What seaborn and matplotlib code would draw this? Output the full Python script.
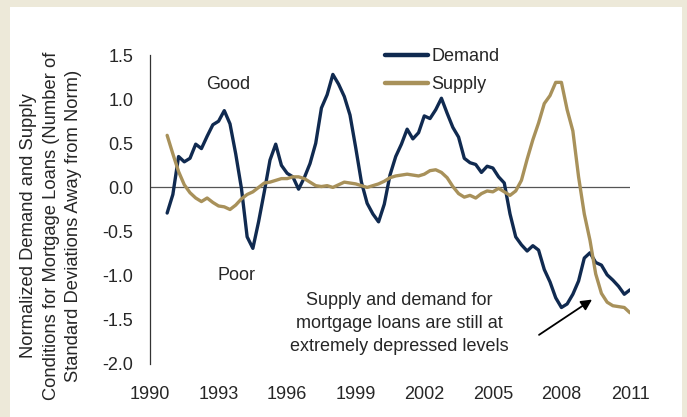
import numpy as np
import pandas as pd
import matplotlib
matplotlib.use("Agg")
import matplotlib.pyplot as plt
from matplotlib.patches import Rectangle
import seaborn as sns

# Quarterly readings, 1990 Q4 through 2011 Q1
quarters = [1990.75 + 0.25 * i for i in range(82)]

demand = [
    -0.29, -0.08, 0.35, 0.29, 0.33, 0.49, 0.44, 0.58, 0.71, 0.75,
    0.87, 0.72, 0.38, -0.01, -0.56, -0.69, -0.39, -0.05, 0.31, 0.49,
    0.25, 0.16, 0.12, -0.02, 0.11, 0.27, 0.50, 0.90, 1.05, 1.28,
    1.17, 1.03, 0.82, 0.45, 0.06, -0.18, -0.30, -0.39, -0.19, 0.14,
    0.35, 0.49, 0.66, 0.55, 0.62, 0.81, 0.78, 0.88, 1.01, 0.84,
    0.68, 0.57, 0.33, 0.28, 0.26, 0.17, 0.24, 0.22, 0.12, 0.05,
    -0.30, -0.56, -0.65, -0.72, -0.66, -0.71, -0.93, -1.07, -1.25, -1.36,
    -1.32, -1.21, -1.06, -0.80, -0.74, -0.85, -0.88, -0.99, -1.05, -1.12,
    -1.21, -1.16,
]

supply = [
    0.59, 0.38, 0.18, 0.03, -0.06, -0.12, -0.16, -0.12, -0.17, -0.21,
    -0.22, -0.25, -0.20, -0.13, -0.08, -0.05, 0.00, 0.05, 0.06, 0.08,
    0.10, 0.10, 0.12, 0.12, 0.10, 0.06, 0.02, 0.01, 0.02, 0.00,
    0.03, 0.06, 0.05, 0.04, 0.02, 0.00, 0.02, 0.04, 0.07, 0.11,
    0.13, 0.14, 0.15, 0.14, 0.13, 0.15, 0.19, 0.20, 0.17, 0.11,
    0.01, -0.07, -0.11, -0.09, -0.12, -0.07, -0.04, -0.05, -0.01, -0.05,
    -0.09, -0.04, 0.08, 0.32, 0.54, 0.73, 0.95, 1.04, 1.19, 1.19,
    0.88, 0.64, 0.12, -0.30, -0.60, -0.98, -1.20, -1.30, -1.34, -1.35,
    -1.36, -1.42,
]

x_ticks = [1990, 1993, 1996, 1999, 2002, 2005, 2008, 2011]
y_ticks = [-2.0, -1.5, -1.0, -0.5, 0.0, 0.5, 1.0, 1.5]

df = pd.DataFrame({
    "year": quarters * 2,
    "value": demand + supply,
    "series": ["Demand"] * len(quarters) + ["Supply"] * len(quarters),
})

sns.set_theme(style="white")
plt.rcParams["font.family"] = ["Liberation Sans", "DejaVu Sans"]

TEXT = "#262626"
NAVY = "#102A50"
TAN = "#A8915A"

fig = plt.figure(figsize=(6.87, 4.17), dpi=100, facecolor="#EDE9D9")
# white inner panel inside the beige frame
fig.patches.append(Rectangle((10 / 687, 0), 672 / 687, 1 - 7 / 417,
                             transform=fig.transFigure, facecolor="white",
                             edgecolor="none", zorder=-10))
ax = fig.add_axes([150 / 687, 1 - 364 / 417, 480 / 687, 309 / 417])
ax.set_facecolor("none")

ax.axhline(0, color="#555555", lw=0.9, zorder=1)

sns.lineplot(data=df, x="year", y="value", hue="series",
             palette={"Demand": NAVY, "Supply": TAN},
             linewidth=2.4, ax=ax, legend=True, zorder=3)

ax.set_xlim(1990, 2011)
ax.set_ylim(-2.0, 1.5)
ax.set_xticks(x_ticks)
ax.set_xticklabels([str(t) for t in x_ticks])
ax.set_yticks(y_ticks)
ax.set_yticklabels([f"{t:.1f}" for t in y_ticks])
ax.tick_params(axis="x", length=0, pad=16, labelsize=13, colors=TEXT)
ax.tick_params(axis="y", length=0, pad=12, labelsize=13, colors=TEXT)

for side in ["top", "right", "bottom"]:
    ax.spines[side].set_visible(False)
ax.spines["left"].set_color("#333333")
ax.spines["left"].set_linewidth(0.9)

ax.set_xlabel("")
ax.set_ylabel("")
fig.text(51 / 687, 1 - 226 / 417,
         "Normalized Demand and Supply\n"
         "Conditions for Mortgage Loans (Number of\n"
         "Standard Deviations Away from Norm)",
         rotation=90, fontsize=13.2, color=TEXT, ha="center", va="center",
         multialignment="center", linespacing=1.45)

leg = ax.legend(loc="upper left", bbox_to_anchor=(0.474, 1.045), frameon=False,
                fontsize=13, handlelength=2.4, handletextpad=0.2,
                labelspacing=0.6, borderaxespad=0)
for t in leg.get_texts():
    t.set_color(TEXT)
for h in leg.get_lines():
    h.set_linewidth(3.2)

ax.text(1993.4, 1.17, "Good", fontsize=13, color=TEXT, ha="center", va="center")
ax.text(1993.8, -1.0, "Poor", fontsize=13, color=TEXT, ha="center", va="center")
ax.text(2000.9, -1.54,
        "Supply and demand for\nmortgage loans are still at\nextremely depressed levels",
        fontsize=13, color=TEXT, ha="center", va="center", linespacing=1.45)
ax.annotate("", xy=(2009.34, -1.27), xytext=(2007.02, -1.67),
            arrowprops=dict(arrowstyle="-|>", color="black", lw=1.3,
                            mutation_scale=16, shrinkA=0, shrinkB=0))

fig.savefig("out.png", dpi=100, facecolor=fig.get_facecolor())
